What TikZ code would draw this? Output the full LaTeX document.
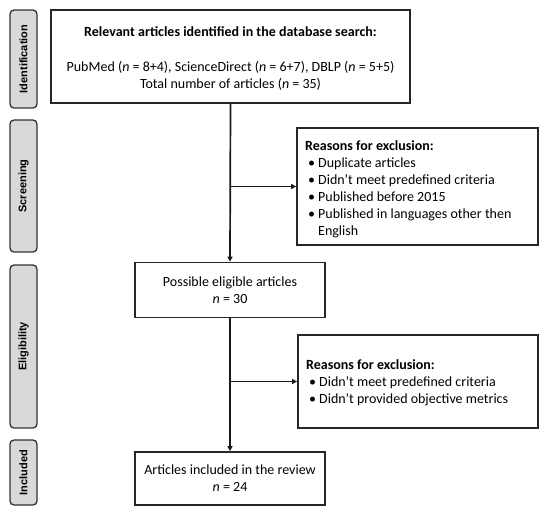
\documentclass[tikz,border=0pt]{standalone}
\usepackage{fontspec}
\setmainfont{Carlito}
\newfontfamily\labelfont{Liberation Sans}
\usetikzlibrary{arrows.meta}
\newcommand\bitem[1]{\makebox[13pt][l]{\hspace{3pt}•}#1}
\begin{document}
\begin{tikzpicture}[x=1pt,y=-1pt,
  box/.style={draw=black!85, line width=1.7pt, fill=white, inner sep=0pt, align=center,
    font=\fontsize{14}{17}\selectfont},
  txt/.style={inner sep=0pt, align=center, font=\fontsize{14}{17}\selectfont},
  extxt/.style={inner sep=0pt, align=left, anchor=west, font=\fontsize{14}{17}\selectfont},
  stage/.style={draw=black!80, line width=1.3pt, fill=black!15, rounded corners=4pt,
    minimum width=27pt, inner sep=0pt},
  stagetext/.style={rotate=90, font=\labelfont\bfseries\fontsize{11}{13}\selectfont},
  arr/.style={draw=black!90, line width=1.7pt, -{Triangle[length=5pt,width=5pt]}}
]
\useasboundingbox (0,0) rectangle (550,516);

% stage labels
\node[stage, minimum height=98pt] (s1) at (23.5,59) {};
\node[stagetext] (s1t) at (s1.center) {Identification};
\node[stage, minimum height=132pt] (s2) at (23.5,186) {};
\node[stagetext] (s2t) at (s2.center) {Screening};
\node[stage, minimum height=163pt] (s3) at (23.5,346.5) {};
\node[stagetext] (s3t) at (s3.center) {Eligibility};
\node[stage, minimum height=65pt] (s4) at (23.5,472.5) {};
\node[stagetext] (s4t) at (s4.center) {Included};

% main boxes
\node[box, minimum width=359pt, minimum height=93pt] (b1) at (230.5,56.5) {};
\node[txt] (b1t) at (230.5,59)
  {\textbf{Relevant articles identified in the database search:}\\[18pt]
   PubMed (\textit{n} = 8+4), ScienceDirect (\textit{n} = 6+7), DBLP (\textit{n} = 5+5)\\
   Total number of articles (\textit{n} = 35)};
\node[box, minimum width=190pt, minimum height=55pt] (b2) at (230,290)
  {Possible eligible articles\\ \textit{n} = 30};
\node[box, minimum width=190pt, minimum height=53pt] (b3) at (230,478.5)
  {Articles included in the review\\ \textit{n} = 24};

% exclusion boxes
\node[box, minimum width=241pt, minimum height=117pt] (e1) at (417.5,186.5) {};
\node[extxt] (e1t) at (305,189.5)
  {\textbf{Reasons for exclusion:}\\
   \bitem{Duplicate articles}\\
   \bitem{Didn’t meet predefined criteria}\\
   \bitem{Published before 2015}\\
   \bitem{Published in languages other then}\\
   \hspace*{13pt}English};
\node[box, minimum width=240pt, minimum height=93pt] (e2) at (418,381.5) {};
\node[extxt] (e2t) at (306,383)
  {\textbf{Reasons for exclusion:}\\
   \bitem{Didn’t meet predefined criteria}\\
   \bitem{Didn’t provided objective metrics}};

% connectors
\draw[arr] (b1.south) -- (b2.north);
\draw[arr] (b1.south |- e1.west) -- (e1.west);
\draw[arr] (b2.south) -- (b3.north);
\draw[arr] (b2.south |- e2.west) -- (e2.west);
\end{tikzpicture}
\end{document}
